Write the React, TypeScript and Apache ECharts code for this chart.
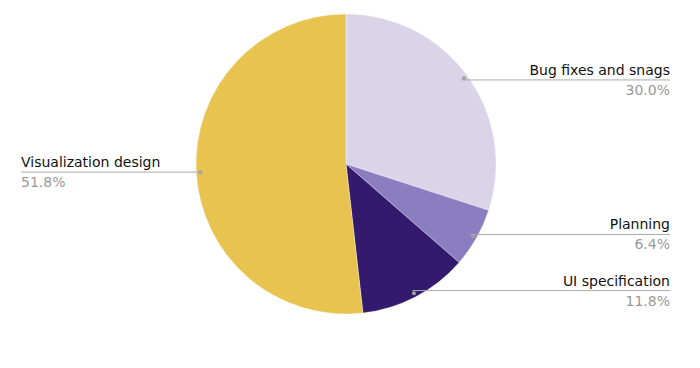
import React, { useEffect, useRef } from "react";
import * as echarts from "echarts";

const categories = ["Bug fixes and snags", "Planning", "UI specification", "Visualization design"];
const values = [30.0, 6.4, 11.8, 51.8];
const colors = ["#d9d4e8", "#8b7ec0", "#331a6c", "#e8c34f"];

const CX = 346;
const CY = 164;
const R = 150;
const LABEL_R = 143;
const RIGHT_EDGE = 670;
const LEFT_EDGE = 21;
const FONT = "'DejaVu Sans', sans-serif";

export default function App() {
  const ref = useRef<HTMLDivElement>(null);
  useEffect(() => {
    if (!ref.current) return;
    const chart = echarts.init(ref.current, undefined, { renderer: "svg" });
    const data = categories.map((name, i) => ({ name, value: values[i] }));
    const transparentData = categories.map((name, i) => ({
      name,
      value: values[i],
      itemStyle: { color: "rgba(0,0,0,0)", borderWidth: 0 },
    }));
    chart.setOption({
      animation: false,
      series: [
        {
          type: "pie",
          center: [CX, CY],
          radius: R,
          startAngle: 90,
          clockwise: true,
          silent: true,
          label: { show: false },
          labelLine: { show: false },
          itemStyle: { borderColor: "rgba(255,255,255,0.6)", borderWidth: 0.6 },
          data: data.map((d, i) => ({ ...d, itemStyle: { color: colors[i] } })),
        },
        {
          type: "pie",
          center: [CX, CY],
          radius: [LABEL_R - 3, LABEL_R + 3],
          startAngle: 90,
          clockwise: true,
          silent: true,
          label: {
            show: true,
            position: "inside",
            formatter: "{dot|}",
            rich: {
              dot: { width: 4, height: 4, borderRadius: 2, backgroundColor: "#a0a0a0" },
            },
          },
          labelLine: { show: false },
          data: transparentData,
          z: 3,
        },
        {
          type: "pie",
          center: [CX, CY],
          radius: LABEL_R,
          startAngle: 90,
          clockwise: true,
          silent: true,
          avoidLabelOverlap: false,
          label: {
            show: true,
            position: "outer",
            formatter: (p: any) => `{name|${p.name}}\n{pct|${Number(p.value).toFixed(1)}%}`,
            rich: {
              name: { fontFamily: FONT, fontSize: 14, color: "#111", lineHeight: 20 },
              pct: { fontFamily: FONT, fontSize: 14, color: "#999", lineHeight: 20 },
            },
          },
          labelLine: {
            show: true,
            length: 0,
            length2: 20,
            lineStyle: { color: "#aaa", width: 1 },
          },
          labelLayout: (params: any) => {
            const pts = params.labelLinePoints;
            if (!pts) return {};
            const start = pts[0];
            const isLeft = start[0] < CX;
            const edgeX = isLeft ? LEFT_EDGE : RIGHT_EDGE;
            return {
              x: edgeX,
              y: start[1],
              align: isLeft ? "left" : "right",
              verticalAlign: "middle",
              labelLinePoints: [
                [start[0], start[1]],
                [start[0], start[1]],
                [edgeX, start[1]],
              ],
            };
          },
          data: transparentData,
          z: 4,
        },
      ],
    });
    return () => chart.dispose();
  }, []);
  return (
    <div
      ref={ref}
      style={{ position: "fixed", left: 0, top: 0, width: 700, height: 368, background: "#fff" }}
    />
  );
}
